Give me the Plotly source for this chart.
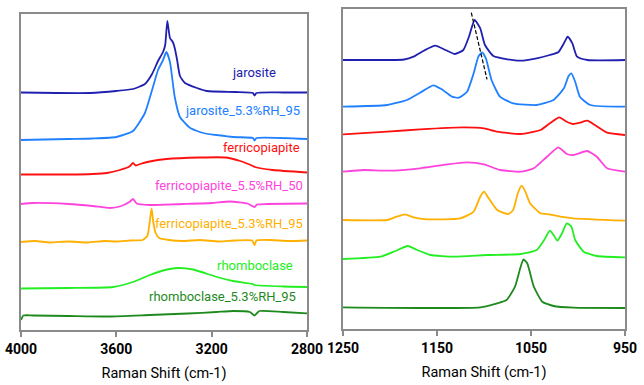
import plotly.graph_objects as go

# ---------------- Left panel (O-H stretching region) ----------------
# x: Raman shift (cm-1); y: relative intensity with offset
jar_L_x = [4000, 3850, 3710, 3600, 3530, 3480, 3450, 3425, 3404, 3395, 3386, 3375, 3363, 3355, 3345, 3333, 3312, 3262, 3220, 3100, 3027, 3020, 3012, 2900, 2800]
jar_L_y = [237.5, 237, 237, 239, 241, 246, 256, 269, 278, 285, 309, 292, 288, 282, 270, 254, 247, 242, 239, 238, 237, 234.5, 237, 237.5, 237.5]

jar95_L_x = [4000, 3800, 3700, 3600, 3530, 3480, 3450, 3425, 3404, 3390, 3375, 3355, 3333, 3290, 3235, 3110, 3027, 3020, 3012, 2800]
jar95_L_y = [190, 191, 191.5, 193, 199, 217, 240, 260, 270, 278, 268, 233, 213, 202, 197, 193, 192, 189.5, 192, 191]

fcp_L_x = [4000, 3800, 3700, 3640, 3585, 3545, 3530, 3518, 3500, 3460, 3390, 3250, 3140, 3080, 3027, 3018, 2943, 2800]
fcp_L_y = [155.5, 155.5, 156, 157, 160, 163.5, 167, 164.5, 166, 168.5, 171, 172.5, 172.5, 169, 164, 163, 160, 157.5]

fcp50_L_x = [4000, 3950, 3800, 3700, 3627, 3585, 3545, 3530, 3515, 3460, 3320, 3200, 3123, 3050, 3020, 3010, 2968, 2800]
fcp50_L_y = [126, 127, 126, 124, 122, 123.5, 128, 131, 126.5, 125, 126, 127, 128.5, 126.5, 123, 125.5, 126, 126.5]

fcp95_L_x = [4000, 3940, 3880, 3800, 3720, 3650, 3600, 3540, 3490, 3470, 3460, 3452, 3445, 3435, 3420, 3380, 3320, 3250, 3170, 3100, 3030, 3020, 3012, 2950, 2880, 2800]
fcp95_L_y = [88, 89, 87.5, 88.5, 87.5, 89, 88.5, 89.5, 90, 94, 108, 121.5, 108, 97, 92, 90, 89, 90, 88.5, 89.5, 89.5, 85, 89.5, 90, 89, 89.5]

rhb_L_x = [4000, 3800, 3614, 3530, 3459, 3387, 3341, 3278, 3178, 3110, 3027, 3020, 2900, 2800]
rhb_L_y = [41.5, 42, 43, 48, 55, 60.5, 62, 60.5, 53, 49, 46, 45, 43.5, 43]

rhb95_L_x = [4000, 3990, 3950, 3800, 3630, 3460, 3300, 3180, 3110, 3040, 3020, 3000, 2900, 2800]
rhb95_L_y = [10, 14.5, 14.5, 14, 13.5, 15, 16.5, 18, 19, 18, 14.5, 19, 18, 16.7]

# ---------------- Right panel (sulfate stretching region) ----------------
jar_R_x = [1250, 1200, 1185, 1175, 1164, 1152, 1141, 1131, 1122, 1116, 1110, 1104, 1099, 1090, 1075, 1061, 1044, 1030, 1021, 1015, 1011, 1006, 1001, 990, 950]
jar_R_y = [269, 269, 269.5, 272.3, 278.3, 283.3, 279, 275, 279, 292.3, 309, 300.7, 284, 273, 269.7, 268.3, 270.7, 274, 276.7, 285.7, 292.3, 285.7, 272.3, 269, 269]

jar95_R_x = [1250, 1203, 1182, 1168, 1154, 1145, 1134, 1127, 1118, 1111, 1106, 1102, 1098, 1092, 1083, 1069, 1044, 1026, 1015, 1010, 1007, 1003, 998, 987, 950]
jar95_R_y = [222.3, 224, 229, 236.3, 243.7, 239.7, 232.3, 231.3, 237.3, 255.7, 272.3, 276.7, 270.7, 249, 232.3, 225.7, 224, 229, 240.7, 253, 255.7, 247.3, 232.3, 224, 222.3]

fcp_R_x = [1250, 1203, 1168, 1122, 1100, 1086, 1061, 1040, 1030, 1020, 1012, 1005, 998, 990, 982, 969, 950]
fcp_R_y = [194.7, 197.3, 199.7, 201.7, 200.7, 197.3, 195, 199, 205.7, 211.7, 207.3, 205, 206.3, 208.3, 204, 196.3, 194]

fcp50_R_x = [1250, 1228, 1203, 1168, 1139, 1118, 1100, 1083, 1061, 1047, 1033, 1021, 1012, 1005, 990, 980, 969, 950]
fcp50_R_y = [157.3, 159, 158.3, 160.7, 164.7, 166.7, 164.7, 159, 157.3, 160.7, 172.3, 181.7, 175, 174, 178, 172.3, 160.7, 157.3]

fcp95_R_x = [1250, 1203, 1193, 1184, 1175, 1161, 1125, 1111, 1104, 1100, 1095, 1086, 1074, 1069, 1064, 1060, 1056, 1051, 1040, 1030, 1019, 1005, 950]
fcp95_R_y = [109, 109, 112.3, 114.7, 111.7, 109.7, 110.7, 117.3, 132.3, 137.3, 130.7, 119, 115, 119, 135.7, 143.3, 137.3, 125.7, 115.7, 114.7, 112.3, 110.7, 108.3]

rhb_R_x = [1250, 1210, 1196, 1181, 1171, 1157, 1132, 1097, 1061, 1044, 1036, 1030, 1026, 1022, 1017, 1012, 1007, 1003, 994, 980, 950]
rhb_R_y = [70, 72.3, 77.3, 83, 79, 74, 72.3, 74, 75, 79, 89, 98.3, 94, 88.3, 95.7, 105.7, 102.3, 89, 77.3, 73, 71.7]

rhb95_R_x = [1250, 1104, 1086, 1076, 1067, 1061, 1058, 1054, 1047, 1038, 1026, 1005, 950]
rhb95_R_y = [21.7, 21.7, 25.7, 29, 42.3, 62.3, 69.7, 65.7, 42.3, 27.3, 23, 21.3, 21]

# dashed guide line (peak shift) endpoints
guide_x = [1113.5, 1096.8]
guide_y = [316.3, 249.7]

names = ["jarosite", "jarosite_5.3%RH_95", "ferricopiapite", "ferricopiapite_5.5%RH_50",
         "ferricopiapite_5.3%RH_95", "rhomboclase", "rhomboclase_5.3%RH_95"]
colors = ["#2020B0", "#2080FF", "#FF1010", "#FF44DD", "#FFB000", "#22EE22", "#1E8A1E"]

left = [(jar_L_x, jar_L_y), (jar95_L_x, jar95_L_y), (fcp_L_x, fcp_L_y), (fcp50_L_x, fcp50_L_y),
        (fcp95_L_x, fcp95_L_y), (rhb_L_x, rhb_L_y), (rhb95_L_x, rhb95_L_y)]
right = [(jar_R_x, jar_R_y), (jar95_R_x, jar95_R_y), (fcp_R_x, fcp_R_y), (fcp50_R_x, fcp50_R_y),
         (fcp95_R_x, fcp95_R_y), (rhb_R_x, rhb_R_y), (rhb95_R_x, rhb95_R_y)]

# label right-edge positions in left-panel data coords
label_x = [2922, 2821, 2821, 2808, 2808, 2850, 2838]
label_y = [258, 220, 183, 145, 107, 65, 34]

fig = go.Figure()
for (x, y), c, n in zip(left, colors, names):
    fig.add_trace(go.Scatter(x=x, y=y, mode="lines", line=dict(color=c, width=1.8, shape="spline", smoothing=0.5),
                             name=n, xaxis="x", yaxis="y", showlegend=False))
for (x, y), c, n in zip(right, colors, names):
    fig.add_trace(go.Scatter(x=x, y=y, mode="lines", line=dict(color=c, width=1.8, shape="spline", smoothing=0.5),
                             name=n, xaxis="x2", yaxis="y2", showlegend=False))
fig.add_trace(go.Scatter(x=guide_x, y=guide_y, mode="lines", line=dict(color="black", width=1.2, dash="4px,2px"),
                         xaxis="x2", yaxis="y2", showlegend=False))

FONT = "Roboto, Arial, sans-serif"
for n, c, lx, ly in zip(names, colors, label_x, label_y):
    fig.add_annotation(x=lx, y=ly, xref="x", yref="y", text=n, showarrow=False, xanchor="right",
                       font=dict(family=FONT, size=13, color=c))

axis_common = dict(showline=True, mirror=True, linecolor="#8a8a8a", linewidth=2, showgrid=False,
                   zeroline=False, automargin=False)
xtick = dict(ticks="outside", ticklen=5, tickcolor="#8a8a8a", tickwidth=1.5, ticklabelstandoff=0,
             tickfont=dict(size=14, family=FONT, weight="bold", color="black"))
xtitle = dict(text="Raman Shift (cm-1)", font=dict(size=14.5, family=FONT, color="black"), standoff=12)
fig.update_layout(
    width=644, height=385, margin=dict(l=0, r=0, t=0, b=0),
    paper_bgcolor="white", plot_bgcolor="white",
    font=dict(family=FONT, color="black"),
    xaxis=dict(domain=[21/644, 307/644], range=[4000, 2800], tickvals=[4000, 3600, 3200, 2800],
               title=xtitle, anchor="y", **xtick, **axis_common),
    yaxis=dict(domain=[1-330/385, 1-14/385], range=[0, 316], showticklabels=False, ticks="",
               anchor="x", **axis_common),
    xaxis2=dict(domain=[343/644, 625/644], range=[1250, 950], tickvals=[1250, 1150, 1050, 950],
                title=xtitle, anchor="y2", **xtick, **axis_common),
    yaxis2=dict(domain=[1-329/385, 1-9/385], range=[0, 320], showticklabels=False, ticks="",
                anchor="x2", **axis_common),
)
fig.write_html("out.html", config={"displayModeBar": False},
               post_script="document.body.style.margin='0';document.body.style.padding='0';")
